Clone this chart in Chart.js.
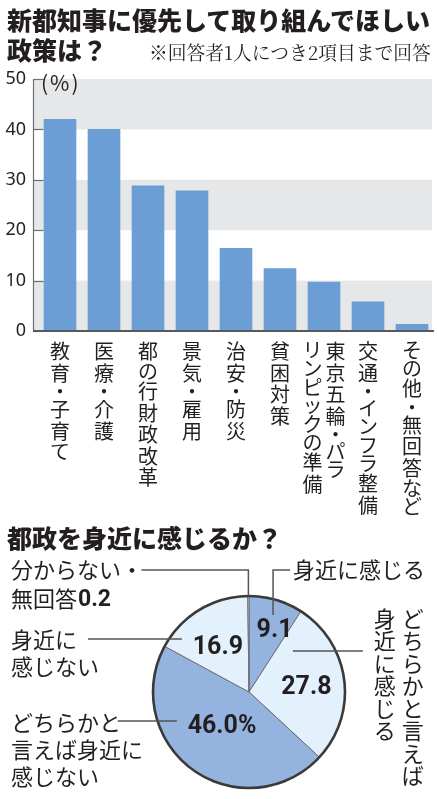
<!DOCTYPE html>
<html><head><meta charset="utf-8">
<script src="https://cdn.jsdelivr.net/npm/chart.js@4.4.0/dist/chart.umd.min.js"></script>
<style>
html,body{margin:0;padding:0;background:#fff;}
body{width:438px;height:799px;position:relative;overflow:hidden;color:#231f20;font-family:"Noto Sans CJK JP",sans-serif;}
.t{position:absolute;white-space:nowrap;color:#231f20;}
#wrapBar{position:absolute;left:0;top:0;width:438px;height:520px;}
#wrapPie{position:absolute;left:0;top:520px;width:438px;height:279px;}
</style></head><body>
<div id="wrapBar"><canvas id="bar"></canvas></div>
<div id="wrapPie"><canvas id="pie"></canvas></div>
<div class="t" style="left:7px;top:5px;font:900 25px/28px 'Noto Sans CJK JP';">新都知事に優先して取り組んでほしい</div>
<div class="t" style="left:7px;top:35px;font:900 25px/28px 'Noto Sans CJK JP';">政策は？</div>
<div class="t" style="left:149px;top:41px;font:18.8px/22px 'Noto Serif CJK JP','Noto Sans CJK JP';">※回答者1人につき2項目まで回答</div>
<div class="t" style="left:41px;top:70px;font:21px/24px 'Noto Sans CJK JP';letter-spacing:2px;">(%)</div>
<div class="t" style="left:7px;top:523px;font:900 25px/28px 'Noto Sans CJK JP';">都政を身近に感じるか？</div>
<script>
// ---------- data ----------
const categories = [['教育・子育て'],['医療・介護'],['都の行財政改革'],['景気・雇用'],['治安・防災'],['貧困対策'],['東京五輪・パラ','リンピックの準備'],['交通・インフラ整備'],['その他・無回答など']];
const shares = [42.0, 40.0, 28.8, 27.8, 16.4, 12.4, 9.7, 5.8, 1.3];
const yTicks = [0, 10, 20, 30, 40, 50];
const bandRanges = [[0, 10], [20, 30], [40, 50]];

const pieLabels = ['身近に感じる', 'どちらかと言えば身近に感じる', 'どちらかと言えば身近に感じない', '身近に感じない', '分からない・無回答'];
const pieValues = [9.1, 27.8, 46.0, 16.9, 0.2];
const pieLineBreaks = [[], [8], [5, 11], [3], [6]];

// ---------- styles ----------
const INK = '#231f20';
const BAR_COLOR = '#6a9ed4';
const BAND_COLOR = '#e6e7e8';
const PIE_COLORS = ['#94b4df', '#e2f1fc', '#94b4df', '#e2f1fc', '#ffffff'];
const JP = '"Noto Sans CJK JP"';

function splitAt(str, breaks) {
  const out = []; let p = 0;
  breaks.forEach(b => { out.push(str.slice(p, b)); p = b; });
  out.push(str.slice(p));
  return out;
}
function adv(ch) {
  if (ch === '・') return 15;
  if (/[\u3040-\u30ff]/.test(ch)) return 18.5;
  return 21.5;
}

// ---------- bar chart ----------
const barDeco = {
  id: 'barDeco',
  beforeDatasetsDraw(chart) {
    const {ctx, chartArea: {left, right, bottom}, scales: {y}} = chart;
    const ax = left - 4.5;
    ctx.save();
    ctx.fillStyle = BAND_COLOR;
    bandRanges.forEach(([lo, hi]) => {
      const y1 = y.getPixelForValue(hi), y2 = y.getPixelForValue(lo);
      ctx.fillRect(ax, y1, right - 2 - ax, y2 - y1);
    });
    ctx.strokeStyle = '#6d6e71'; ctx.lineWidth = 1.2;
    ctx.beginPath(); ctx.moveTo(ax, y.getPixelForValue(yTicks[yTicks.length - 1])); ctx.lineTo(ax, bottom); ctx.stroke();
    yTicks.forEach(v => {
      const py = Math.round(y.getPixelForValue(v)) + 0.5;
      ctx.beginPath(); ctx.moveTo(ax, py); ctx.lineTo(ax + 10, py); ctx.stroke();
    });
    ctx.restore();
  },
  afterDatasetsDraw(chart) {
    const {ctx, chartArea: {left, right, bottom}} = chart;
    ctx.save();
    ctx.strokeStyle = '#58595b'; ctx.lineWidth = 1.8;
    ctx.beginPath(); ctx.moveTo(left - 5, bottom); ctx.lineTo(right, bottom); ctx.stroke();
    // vertical category labels
    const x = chart.scales.x;
    ctx.fillStyle = INK;
    ctx.font = '20px ' + JP;
    ctx.textAlign = 'center'; ctx.textBaseline = 'middle';
    categories.forEach((cols, i) => {
      const cx = x.getPixelForValue(i);
      const n = cols.length;
      cols.forEach((col, k) => {
        const colX = cx + ((n - 1) / 2 - k) * 23;
        let yy = bottom + 10;
        for (const ch of col) {
          const a = adv(ch);
          ctx.fillText(ch, colX, yy + a / 2);
          yy += a;
        }
      });
    });
    ctx.restore();
  }
};

new Chart(document.getElementById('bar'), {
  type: 'bar',
  data: {
    labels: categories.map(c => c.join('')),
    datasets: [{ data: shares, backgroundColor: BAR_COLOR, borderWidth: 0, barThickness: 32 }]
  },
  options: {
    responsive: true, maintainAspectRatio: false, animation: false,
    layout: { padding: { top: 79, right: 4, left: 0, bottom: 0 } },
    plugins: { legend: { display: false }, tooltip: { enabled: false } },
    scales: {
      x: {
        grid: { display: false }, border: { display: false },
        ticks: { display: false },
        afterFit(s) { s.height = 189; }
      },
      y: {
        min: 0, max: 50,
        grid: { display: false, drawTicks: false }, border: { display: false },
        ticks: { stepSize: 10, padding: 12, color: INK, font: { family: 'Noto Sans', size: 18 } },
        afterFit(s) { s.width = 38; }
      }
    }
  },
  plugins: [barDeco]
});

// ---------- pie chart ----------
function arcPoint(arc, t, f) {
  const p = arc.getProps(['x', 'y', 'startAngle', 'endAngle', 'outerRadius'], true);
  const a = p.startAngle + t * (p.endAngle - p.startAngle);
  return { x: p.x + Math.cos(a) * f * p.outerRadius, y: p.y + Math.sin(a) * f * p.outerRadius };
}
const valueLayout = [{s: 6, f: 0.70}, {s: 2, f: 0.60}, {s: 3, f: 0.45}, {s: -3.5, f: 0.57}];
const anchorLayout = [{t: 0.53, f: 0.84}, {t: 0.142, f: 0.625}, {t: 0.696, f: 0.81}, {t: 0.162, f: 0.89}, {t: 0.5, f: 1.0}];

const pieDeco = {
  id: 'pieDeco',
  afterDatasetsDraw(chart) {
    const {ctx} = chart;
    const meta = chart.getDatasetMeta(0);
    const arcs = meta.data;
    const p0 = arcs[0].getProps(['x', 'y', 'outerRadius'], true);
    ctx.save();
    // outer ring
    ctx.strokeStyle = '#3a3a3a'; ctx.lineWidth = 2.6;
    ctx.beginPath(); ctx.arc(p0.x, p0.y, p0.outerRadius, 0, Math.PI * 2); ctx.stroke();

    // value labels
    ctx.fillStyle = INK; ctx.textAlign = 'center'; ctx.textBaseline = 'middle';
    ctx.font = 'bold 25px Roboto';
    valueLayout.forEach((L, i) => {
      const p = arcs[i].getProps(['x', 'y', 'startAngle', 'endAngle', 'outerRadius'], true);
      const a = (p.startAngle + p.endAngle) / 2 + L.s * Math.PI / 180;
      const txt = pieValues[i].toFixed(1) + (i === 2 ? '%' : '');
      ctx.fillText(txt, p.x + Math.cos(a) * L.f * p.outerRadius, p.y + Math.sin(a) * L.f * p.outerRadius + 1);
    });

    // leaders + category labels
    const A = anchorLayout.map((L, i) => arcPoint(arcs[i], L.t, L.f));
    ctx.strokeStyle = '#555'; ctx.lineWidth = 1.5;
    const line = pts => { ctx.beginPath(); ctx.moveTo(pts[0][0], pts[0][1]); pts.slice(1).forEach(q => ctx.lineTo(q[0], q[1])); ctx.stroke(); };

    const lbl = pieLabels.map((s, i) => splitAt(s, pieLineBreaks[i]));
    ctx.font = '22px ' + JP; ctx.textAlign = 'left';

    // 0: 身近に感じる
    line([[A[0].x, A[0].y], [A[0].x, A[0].y - 45], [A[0].x + 17, A[0].y - 45]]);
    ctx.fillText(lbl[0][0], A[0].x + 20, A[0].y - 45);

    // 1: どちらかと言えば身近に感じる (vertical)
    line([[A[1].x, A[1].y], [A[1].x + 70, A[1].y]]);
    ctx.textAlign = 'center';
    lbl[1].forEach((col, k) => {
      const cx = A[1].x + 120 - k * 28;
      let yy = A[1].y - 44;
      for (const ch of col) { ctx.fillText(ch, cx, yy + 11.25); yy += 22.5; }
    });
    ctx.textAlign = 'left';

    // 2: どちらかと言えば身近に感じない
    line([[A[2].x, A[2].y], [A[2].x - 59, A[2].y]]);
    lbl[2].forEach((s, k) => ctx.fillText(s, 11, A[2].y + 2 + k * 27));

    // 3: 身近に感じない
    line([[A[3].x, A[3].y], [A[3].x - 94, A[3].y]]);
    lbl[3].forEach((s, k) => ctx.fillText(s, 11, A[3].y + 1 + k * 27));

    // 4: 分からない・無回答
    const ty = A[4].y - 26;
    line([[A[4].x, A[4].y], [A[4].x, ty], [A[4].x - 107, ty]]);
    ctx.fillText(lbl[4][0], 11, ty);
    ctx.fillText(lbl[4][1], 11, ty + 29);
    const w = ctx.measureText(lbl[4][1]).width;
    ctx.font = 'bold 23px Roboto';
    ctx.fillText(pieValues[4].toFixed(1), 11 + w + 1, ty + 30);
    ctx.restore();
  }
};

new Chart(document.getElementById('pie'), {
  type: 'pie',
  data: {
    labels: pieLabels,
    datasets: [{ data: pieValues, backgroundColor: PIE_COLORS, borderColor: '#6d6e71', borderWidth: 1, radius: 96 }]
  },
  options: {
    responsive: true, maintainAspectRatio: false, animation: false,
    layout: { padding: { top: 65, left: 60, right: 0, bottom: 0 } },
    plugins: { legend: { display: false }, tooltip: { enabled: false } }
  },
  plugins: [pieDeco]
});
</script>
</body></html>
